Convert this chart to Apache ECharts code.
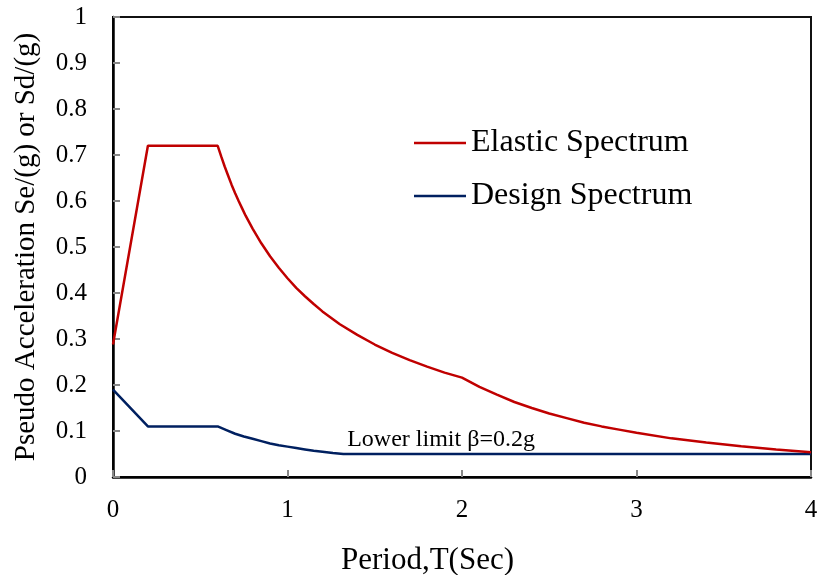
<!DOCTYPE html>
<html>
<head>
<meta charset="utf-8">
<script src="https://cdn.jsdelivr.net/npm/echarts@6/dist/echarts.min.js"></script>
<style>html,body{margin:0;padding:0;background:#fff;}#c{width:817px;height:575px;}</style>
</head>
<body>
<div id="c"></div>
<script>
// Period T (s) and values
var elasticT   = [0, 0.2, 0.6, 0.62, 0.64, 0.66, 0.68, 0.7, 0.72, 0.74, 0.76, 0.78, 0.8, 0.85, 0.9, 0.95, 1.0, 1.05, 1.1, 1.15, 1.2, 1.3, 1.4, 1.5, 1.6, 1.7, 1.8, 1.9, 2.0, 2.1, 2.2, 2.3, 2.4, 2.5, 2.6, 2.7, 2.8, 2.9, 3.0, 3.2, 3.4, 3.6, 3.8, 4.0];
var elasticSe  = [0.288, 0.72, 0.72, 0.697, 0.675, 0.655, 0.635, 0.617, 0.6, 0.584, 0.568, 0.554, 0.54, 0.508, 0.48, 0.455, 0.432, 0.411, 0.393, 0.376, 0.36, 0.332, 0.309, 0.288, 0.27, 0.254, 0.24, 0.227, 0.216, 0.196, 0.179, 0.163, 0.15, 0.138, 0.128, 0.118, 0.110, 0.103, 0.096, 0.084, 0.075, 0.067, 0.060, 0.054];
var designT    = [0, 0.2, 0.6, 0.65, 0.7, 0.75, 0.8, 0.85, 0.9, 0.95, 1.0, 1.05, 1.1, 1.15, 1.2, 1.26, 1.32, 4.0];
var designSd   = [0.19, 0.11, 0.11, 0.102, 0.094, 0.088, 0.083, 0.078, 0.073, 0.069, 0.066, 0.063, 0.060, 0.057, 0.055, 0.052, 0.05, 0.05];
var seriesNames = ['Elastic Spectrum', 'Design Spectrum'];
var yTicks = [0, 0.1, 0.2, 0.3, 0.4, 0.5, 0.6, 0.7, 0.8, 0.9, 1];
var xTicks = [0, 1, 2, 3, 4];
var annotation = 'Lower limit \u03b2=0.2g';

function pairs(xs, ys) { return xs.map(function (x, i) { return [x, ys[i]]; }); }

var FONT = "'Liberation Serif', 'Times New Roman', serif";
var chart = echarts.init(document.getElementById('c'), null, { renderer: 'canvas' });
chart.setOption({
  backgroundColor: '#fff',
  animation: false,
  grid: { left: 113, right: 6, top: 17, bottom: 98, outerBoundsMode: 'none', containLabel: false, show: true, borderColor: '#111', borderWidth: 2, backgroundColor: 'transparent' },
  legend: {
    orient: 'vertical', left: 409, top: 122, itemGap: 21,
    icon: 'rect', itemWidth: 52, itemHeight: 2.5,
    textStyle: { fontFamily: FONT, fontSize: 32, color: '#000' },
    data: seriesNames
  },
  xAxis: {
    type: 'value', min: 0, max: 4, interval: 1,
    name: 'Period,T(Sec)', nameLocation: 'middle', nameGap: 68,
    nameTextStyle: { fontFamily: FONT, fontSize: 31, color: '#000', padding: [0, 69, 0, 0] },
    axisLine: { show: true, onZero: false, lineStyle: { color: '#000', width: 2.5 } },
    axisTick: { show: true, inside: true, length: 7, lineStyle: { color: '#888', width: 2 } },
    axisLabel: { fontFamily: FONT, fontSize: 25, color: '#000', margin: 21, formatter: function (v) { return xTicks.indexOf(v) >= 0 ? String(v) : ''; } },
    splitLine: { show: false }
  },
  yAxis: {
    type: 'value', min: 0, max: 1, interval: 0.1,
    name: 'Pseudo Acceleration Se/(g) or Sd/(g)', nameLocation: 'middle', nameGap: 72,
    nameTextStyle: { fontFamily: FONT, fontSize: 29, color: '#000' },
    axisLine: { show: true, onZero: false, lineStyle: { color: '#000', width: 2.5 } },
    axisTick: { show: true, inside: true, length: 7, lineStyle: { color: '#888', width: 2 } },
    axisLabel: { fontFamily: FONT, fontSize: 25, color: '#000', margin: 26, formatter: function (v) { var r = Math.round(v * 10) / 10; return yTicks.indexOf(r) >= 0 ? String(r) : ''; } },
    splitLine: { show: false }
  },
  series: [
    {
      name: seriesNames[0], type: 'line', data: pairs(elasticT, elasticSe),
      symbol: 'none', smooth: false, lineStyle: { color: '#C00000', width: 2.5 }, itemStyle: { color: '#C00000' }, z: 3
    },
    {
      name: seriesNames[1], type: 'line', data: pairs(designT, designSd),
      symbol: 'none', smooth: false, lineStyle: { color: '#002060', width: 2.5 }, itemStyle: { color: '#002060' }, z: 2,
      markPoint: {
        symbol: 'circle', symbolSize: 0, silent: true,
        data: [{ coord: [1.88, 0.081], value: annotation }],
        label: { show: true, position: 'inside', formatter: annotation, fontFamily: FONT, fontSize: 24, color: '#000' }
      }
    }
  ]
});
</script>
</body>
</html>
